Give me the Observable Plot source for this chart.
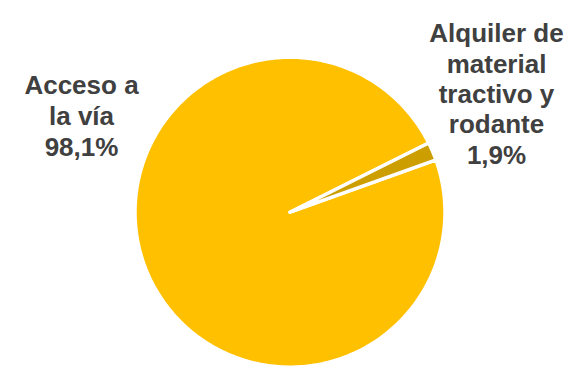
<!DOCTYPE html>
<html>
<head>
<meta charset="utf-8">
<script src="https://cdn.jsdelivr.net/npm/d3@7"></script>
<script src="https://cdn.jsdelivr.net/npm/@observablehq/plot@0.6"></script>
<style>
  html, body { margin: 0; padding: 0; background: #fff; }
  #chart svg { display: block; }
</style>
</head>
<body>
<div id="chart"></div>
<script>
// ---- data ----
const categories = ["Acceso a la vía", "Alquiler de material tractivo y rodante"];
const shares = [98.1, 1.9];
const labelTexts = ["Acceso a\nla vía\n98,1%", "Alquiler de\nmaterial\ntractivo y\nrodante\n1,9%"];
const sliceColors = ["#FFC000", "#CC9E00"];

// ---- layout ----
const W = 579, H = 377;
const cx = 289.5, cy = 211.7, R = 155;
const startDeg = 70.3;
const labelLayout = [
  {x: 81, y: 72, lh: 1.185},
  {x: 496, y: 20, lh: 1.17}
];

const pie = d3.pie().sort(null).startAngle(startDeg * Math.PI / 180)
  .endAngle(startDeg * Math.PI / 180 + 2 * Math.PI)(shares);

// polygon vertices for each slice (unit radius, y up), derived from pie angles
const slices = pie.map((p, i) => {
  const pts = [{x: 0, y: 0}];
  const n = Math.max(4, Math.ceil((p.endAngle - p.startAngle) * 180 / Math.PI));
  for (let k = 0; k <= n; k++) {
    const a = p.startAngle + (p.endAngle - p.startAngle) * k / n;
    pts.push({x: Math.sin(a), y: Math.cos(a)});
  }
  return {name: categories[i], color: sliceColors[i], pts};
});

const labels = categories.map((c, i) => ({name: c, text: labelTexts[i], ...labelLayout[i]}));

const chart = Plot.plot({
  width: W,
  height: H,
  margin: 0,
  style: {background: "#fff", fontFamily: "'Liberation Sans', Arial, sans-serif"},
  x: {domain: [-cx / R, (W - cx) / R], axis: null},
  y: {domain: [(cy - H) / R, cy / R], axis: null},
  marks: [
    ...slices.map(s => Plot.line(s.pts, {
      x: "x", y: "y",
      curve: "linear-closed",
      fill: s.color,
      stroke: "#fff",
      strokeWidth: 3.5,
      strokeLinejoin: "round"
    })),
    ...labels.map(l => Plot.text([l], {
      text: "text",
      frameAnchor: "top-left",
      dx: l.x, dy: l.y,
      textAnchor: "middle",
      lineAnchor: "top",
      lineHeight: l.lh,
      fontSize: 26,
      fontWeight: "bold",
      fill: "#404040"
    }))
  ]
});
document.getElementById("chart").appendChild(chart);
</script>
</body>
</html>
